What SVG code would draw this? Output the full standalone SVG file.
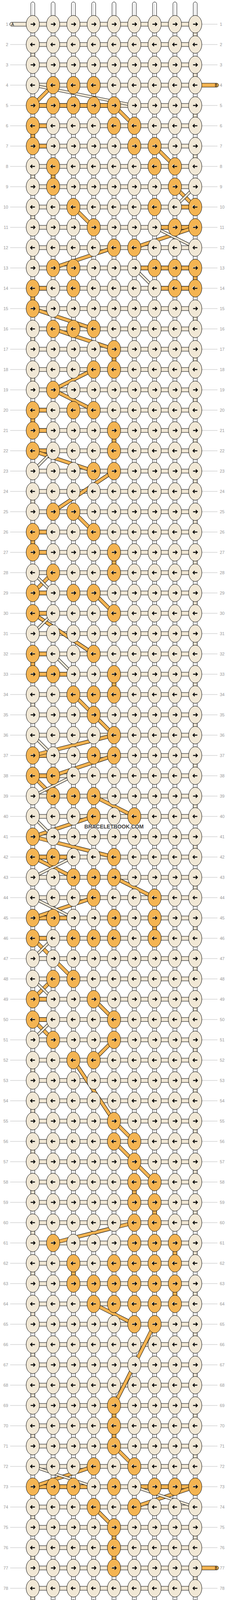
<svg xmlns="http://www.w3.org/2000/svg" width="584" height="4232" viewBox="0 0 584 4232">
<style>
.w{fill:#fff;stroke:#000;stroke-width:1}
.wl{fill:none;stroke:#bbb;stroke-width:1}
.hc{fill:#F1E8D6;stroke:#000;stroke-width:1}
.ho{fill:#F4B452;stroke:#000;stroke-width:1}
.kc{fill:#F1E8D6;stroke:#000;stroke-width:1}
.ko{fill:#F4B452;stroke:#000;stroke-width:1}
.bo{stroke:#000;stroke-width:9.5}
.fo{stroke:#F4B452;stroke-width:7.5}
.bc{stroke:#000;stroke-width:7}
.fc{stroke:#F1E8D6;stroke-width:5}
.gl{fill:none;stroke:#bbb;stroke-width:1}
.lb text{font-family:"Liberation Sans",Arial,sans-serif;font-size:11px;fill:#999}
.ll text{text-anchor:end}
.ar{fill:none;stroke:#000;stroke-width:2.3}
.ah{fill:none;stroke:#fff;stroke-width:2.3}
.st{font-family:"Liberation Sans",Arial,sans-serif;font-size:10px;fill:#000}
</style>
<defs>
<path id="pR" d="M-5.5,0H5.5M1.5,-4.2L5.6,0L1.5,4.2"/>
<path id="pL" d="M5.5,0H-5.5M-1.5,-4.2L-5.6,0L-1.5,4.2"/>
<g id="cR"><ellipse class="kc" rx="17" ry="22.5"/><use href="#pR" class="ar"/></g>
<g id="cL"><ellipse class="kc" rx="17" ry="22.5"/><use href="#pL" class="ar"/></g>
<g id="oR"><ellipse class="ko" rx="17" ry="22.5"/><use href="#pR" class="ah" x="-0.9" y="-0.9"/><use href="#pR" class="ar"/></g>
<g id="oL"><ellipse class="ko" rx="17" ry="22.5"/><use href="#pL" class="ah" x="-0.9" y="-0.9"/><use href="#pL" class="ar"/></g>
</defs>
<rect width="584" height="4232" fill="#fff"/>
<g id="guides">
<path class="gl" d="M26,62H67M26,114H67M26,166H67M26,218H67M26,270H67M26,322H67M26,374H67M26,426H67M26,478H67M26,530H67M26,582H67M26,634H67M26,686H67M26,738H67M26,790H67M26,842H67M26,894H67M26,946H67M26,998H67M26,1050H67M26,1102H67M26,1154H67M26,1206H67M26,1258H67M26,1310H67M26,1362H67M26,1414H67M26,1466H67M26,1518H67M26,1570H67M26,1622H67M26,1674H67M26,1726H67M26,1778H67M26,1830H67M26,1882H67M26,1934H67M26,1986H67M26,2038H67M26,2090H67M26,2142H67M26,2194H67M26,2246H67M26,2298H67M26,2350H67M26,2402H67M26,2454H67M26,2506H67M26,2558H67M26,2610H67M26,2662H67M26,2714H67M26,2766H67M26,2818H67M26,2870H67M26,2922H67M26,2974H67M26,3026H67M26,3078H67M26,3130H67M26,3182H67M26,3234H67M26,3286H67M26,3338H67M26,3390H67M26,3442H67M26,3494H67M26,3546H67M26,3598H67M26,3650H67M26,3702H67M26,3754H67M26,3806H67M26,3858H67M26,3910H67M26,3962H67M26,4014H67M26,4066H67M26,4118H67M26,4170H67"/>
<path class="gl" d="M517,62H557M517,114H557M517,166H557M517,218H557M517,270H557M517,322H557M517,374H557M517,426H557M517,478H557M517,530H557M517,582H557M517,634H557M517,686H557M517,738H557M517,790H557M517,842H557M517,894H557M517,946H557M517,998H557M517,1050H557M517,1102H557M517,1154H557M517,1206H557M517,1258H557M517,1310H557M517,1362H557M517,1414H557M517,1466H557M517,1518H557M517,1570H557M517,1622H557M517,1674H557M517,1726H557M517,1778H557M517,1830H557M517,1882H557M517,1934H557M517,1986H557M517,2038H557M517,2090H557M517,2142H557M517,2194H557M517,2246H557M517,2298H557M517,2350H557M517,2402H557M517,2454H557M517,2506H557M517,2558H557M517,2610H557M517,2662H557M517,2714H557M517,2766H557M517,2818H557M517,2870H557M517,2922H557M517,2974H557M517,3026H557M517,3078H557M517,3130H557M517,3182H557M517,3234H557M517,3286H557M517,3338H557M517,3390H557M517,3442H557M517,3494H557M517,3546H557M517,3598H557M517,3650H557M517,3702H557M517,3754H557M517,3806H557M517,3858H557M517,3910H557M517,3962H557M517,4014H557M517,4066H557M517,4118H557M517,4170H557"/>
</g>
<g id="connectors">
<g id="warps">
<rect class="w" x="79" y="5" width="10" height="4222" rx="5"/>
<rect class="w" x="131" y="5" width="10" height="4222" rx="5"/>
<rect class="w" x="183" y="5" width="10" height="4222" rx="5"/>
<rect class="w" x="235" y="5" width="10" height="4222" rx="5"/>
<rect class="w" x="287" y="5" width="10" height="4222" rx="5"/>
<rect class="w" x="339" y="5" width="10" height="4222" rx="5"/>
<rect class="w" x="391" y="5" width="10" height="4222" rx="5"/>
<rect class="w" x="443" y="5" width="10" height="4222" rx="5"/>
<rect class="w" x="495" y="5" width="10" height="4222" rx="5"/>
<path class="wl" d="M83.5,9V4223M135.5,9V4223M187.5,9V4223M239.5,9V4223M291.5,9V4223M343.5,9V4223M395.5,9V4223M447.5,9V4223M499.5,9V4223"/>
</g>
<path id="rows-cream" class="hc" d="M84,57h416v10h-416zM84,109h416v10h-416zM84,161h416v10h-416zM84,213h416v10h-416zM84,265h416v10h-416zM84,317h416v10h-416zM84,369h416v10h-416zM84,421h416v10h-416zM84,473h416v10h-416zM84,525h416v10h-416zM84,577h416v10h-416zM84,629h416v10h-416zM84,681h416v10h-416zM84,733h416v10h-416zM84,785h416v10h-416zM84,837h416v10h-416zM84,889h416v10h-416zM84,941h416v10h-416zM84,993h416v10h-416zM84,1045h416v10h-416zM84,1097h416v10h-416zM84,1149h416v10h-416zM84,1201h416v10h-416zM84,1253h416v10h-416zM84,1305h416v10h-416zM84,1357h416v10h-416zM84,1409h416v10h-416zM84,1461h416v10h-416zM84,1513h416v10h-416zM84,1565h416v10h-416zM84,1617h416v10h-416zM84,1669h416v10h-416zM84,1721h416v10h-416zM84,1773h416v10h-416zM84,1825h416v10h-416zM84,1877h416v10h-416zM84,1929h416v10h-416zM84,1981h416v10h-416zM84,2033h416v10h-416zM84,2085h416v10h-416zM84,2137h416v10h-416zM84,2189h416v10h-416zM84,2241h416v10h-416zM84,2293h416v10h-416zM84,2345h416v10h-416zM84,2397h416v10h-416zM84,2449h416v10h-416zM84,2501h416v10h-416zM84,2553h416v10h-416zM84,2605h416v10h-416zM84,2657h416v10h-416zM84,2709h416v10h-416zM84,2761h416v10h-416zM84,2813h416v10h-416zM84,2865h416v10h-416zM84,2917h416v10h-416zM84,2969h416v10h-416zM84,3021h416v10h-416zM84,3073h416v10h-416zM84,3125h416v10h-416zM84,3177h416v10h-416zM84,3229h416v10h-416zM84,3281h416v10h-416zM84,3333h416v10h-416zM84,3385h416v10h-416zM84,3437h416v10h-416zM84,3489h416v10h-416zM84,3541h416v10h-416zM84,3593h416v10h-416zM84,3645h416v10h-416zM84,3697h416v10h-416zM84,3749h416v10h-416zM84,3801h416v10h-416zM84,3853h416v10h-416zM84,3905h416v10h-416zM84,3957h416v10h-416zM84,4009h416v10h-416zM84,4061h416v10h-416zM84,4113h416v10h-416zM84,4165h416v10h-416z"/>
<path id="rows-orange" class="ho" d="M84,265h208v10h-208zM84,317h52v10h-52zM84,369h52v10h-52zM448,525h52v10h-52zM396,577h104v10h-104zM344,681h156v10h-156zM84,733h52v10h-52zM396,733h104v10h-104zM84,1045h52v10h-52zM84,1097h52v10h-52zM84,1149h52v10h-52zM84,1357h52v10h-52zM84,1409h52v10h-52zM84,1513h52v10h-52zM84,1565h52v10h-52zM84,1669h52v10h-52zM84,1721h104v10h-104zM84,1929h52v10h-52zM84,1981h52v10h-52zM84,2189h104v10h-104zM84,2345h104v10h-104zM84,2397h52v10h-52zM84,2553h52v10h-52zM84,2605h52v10h-52zM84,3801h156v10h-156zM344,3801h156v10h-156z"/>
<path id="turns-cream" class="hc" d="M495,80h10v16h-10zM495,184h10v16h-10zM495,288h10v16h-10zM495,392h10v16h-10zM495,808h10v16h-10zM495,912h10v16h-10zM495,1016h10v16h-10zM495,1120h10v16h-10zM495,1224h10v16h-10zM495,1328h10v16h-10zM495,1432h10v16h-10zM495,1536h10v16h-10zM495,1640h10v16h-10zM495,1744h10v16h-10zM495,1848h10v16h-10zM495,1952h10v16h-10zM495,2056h10v16h-10zM495,2160h10v16h-10zM495,2264h10v16h-10zM495,2368h10v16h-10zM495,2472h10v16h-10zM495,2576h10v16h-10zM495,2680h10v16h-10zM495,2784h10v16h-10zM495,2888h10v16h-10zM495,2992h10v16h-10zM495,3096h10v16h-10zM495,3200h10v16h-10zM495,3304h10v16h-10zM495,3408h10v16h-10zM495,3512h10v16h-10zM495,3616h10v16h-10zM495,3720h10v16h-10zM495,3928h10v16h-10zM495,4032h10v16h-10zM495,4136h10v16h-10zM79,132h10v16h-10zM79,444h10v16h-10zM79,548h10v16h-10zM79,652h10v16h-10zM79,860h10v16h-10zM79,964h10v16h-10zM79,1276h10v16h-10zM79,1796h10v16h-10zM79,2732h10v16h-10zM79,2836h10v16h-10zM79,2940h10v16h-10zM79,3044h10v16h-10zM79,3148h10v16h-10zM79,3252h10v16h-10zM79,3356h10v16h-10zM79,3460h10v16h-10zM79,3564h10v16h-10zM79,3668h10v16h-10zM79,3876h10v16h-10zM79,3980h10v16h-10zM79,4084h10v16h-10z"/>
<path id="turns-orange" class="ho" d="M79,340h10v16h-10zM495,704h10v16h-10zM79,756h10v16h-10zM79,1068h10v16h-10zM79,1380h10v16h-10zM79,1692h10v16h-10zM131,444h10v16h-10zM287,912h10v16h-10zM287,1120h10v16h-10zM287,1432h10v16h-10zM287,1744h10v16h-10zM391,2368h10v16h-10zM339,3044h10v16h-10zM391,3096h10v16h-10zM443,3200h10v16h-10zM183,3252h10v16h-10zM443,3304h10v16h-10zM287,3616h10v16h-10zM287,3668h10v16h-10zM287,3928h10v16h-10zM287,3980h10v16h-10z"/>
<g id="diagonals-orange">
<line class="bo" x1="84" y1="270" x2="136" y2="218"/><line class="fo" x1="84" y1="270" x2="136" y2="218"/>
<line class="bo" x1="292" y1="270" x2="344" y2="322"/><line class="fo" x1="292" y1="270" x2="344" y2="322"/>
<line class="bo" x1="396" y1="374" x2="448" y2="426"/><line class="fo" x1="396" y1="374" x2="448" y2="426"/>
<line class="bo" x1="448" y1="478" x2="500" y2="530"/><line class="fo" x1="448" y1="478" x2="500" y2="530"/>
<line class="bo" x1="188" y1="530" x2="240" y2="582"/><line class="fo" x1="188" y1="530" x2="240" y2="582"/>
<line class="bo" x1="500" y1="582" x2="344" y2="634"/><line class="fo" x1="500" y1="582" x2="344" y2="634"/>
<line class="bo" x1="292" y1="634" x2="136" y2="686"/><line class="fo" x1="292" y1="634" x2="136" y2="686"/>
<line class="bo" x1="84" y1="790" x2="240" y2="842"/><line class="fo" x1="84" y1="790" x2="240" y2="842"/>
<line class="bo" x1="136" y1="842" x2="292" y2="894"/><line class="fo" x1="136" y1="842" x2="292" y2="894"/>
<line class="bo" x1="240" y1="946" x2="136" y2="998"/><line class="fo" x1="240" y1="946" x2="136" y2="998"/>
<line class="bo" x1="136" y1="998" x2="240" y2="1050"/><line class="fo" x1="136" y1="998" x2="240" y2="1050"/>
<line class="bo" x1="84" y1="1154" x2="240" y2="1206"/><line class="fo" x1="84" y1="1154" x2="240" y2="1206"/>
<line class="bo" x1="292" y1="1206" x2="136" y2="1310"/><line class="fo" x1="292" y1="1206" x2="136" y2="1310"/>
<line class="bo" x1="188" y1="1310" x2="240" y2="1362"/><line class="fo" x1="188" y1="1310" x2="240" y2="1362"/>
<line class="bo" x1="84" y1="1518" x2="136" y2="1466"/><line class="fo" x1="84" y1="1518" x2="136" y2="1466"/>
<line class="bo" x1="240" y1="1518" x2="292" y2="1570"/><line class="fo" x1="240" y1="1518" x2="292" y2="1570"/>
<line class="bo" x1="84" y1="1570" x2="240" y2="1674"/><line class="fo" x1="84" y1="1570" x2="240" y2="1674"/>
<line class="bo" x1="188" y1="1778" x2="240" y2="1830"/><line class="fo" x1="188" y1="1778" x2="240" y2="1830"/>
<line class="bo" x1="240" y1="1830" x2="292" y2="1882"/><line class="fo" x1="240" y1="1830" x2="292" y2="1882"/>
<line class="bo" x1="292" y1="1882" x2="84" y2="1934"/><line class="fo" x1="292" y1="1882" x2="84" y2="1934"/>
<line class="bo" x1="292" y1="1934" x2="136" y2="1986"/><line class="fo" x1="292" y1="1934" x2="136" y2="1986"/>
<line class="bo" x1="84" y1="1986" x2="136" y2="2038"/><line class="fo" x1="84" y1="1986" x2="136" y2="2038"/>
<line class="bo" x1="240" y1="2038" x2="344" y2="2090"/><line class="fo" x1="240" y1="2038" x2="344" y2="2090"/>
<line class="bo" x1="240" y1="2090" x2="84" y2="2142"/><line class="fo" x1="240" y1="2090" x2="84" y2="2142"/>
<line class="bo" x1="84" y1="2142" x2="292" y2="2194"/><line class="fo" x1="84" y1="2142" x2="292" y2="2194"/>
<line class="bo" x1="84" y1="2194" x2="188" y2="2246"/><line class="fo" x1="84" y1="2194" x2="188" y2="2246"/>
<line class="bo" x1="292" y1="2246" x2="396" y2="2298"/><line class="fo" x1="292" y1="2246" x2="396" y2="2298"/>
<line class="bo" x1="240" y1="2298" x2="84" y2="2350"/><line class="fo" x1="240" y1="2298" x2="84" y2="2350"/>
<line class="bo" x1="84" y1="2402" x2="136" y2="2454"/><line class="fo" x1="84" y1="2402" x2="136" y2="2454"/>
<line class="bo" x1="136" y1="2454" x2="188" y2="2506"/><line class="fo" x1="136" y1="2454" x2="188" y2="2506"/>
<line class="bo" x1="84" y1="2558" x2="136" y2="2506"/><line class="fo" x1="84" y1="2558" x2="136" y2="2506"/>
<line class="bo" x1="240" y1="2558" x2="292" y2="2610"/><line class="fo" x1="240" y1="2558" x2="292" y2="2610"/>
<line class="bo" x1="84" y1="2610" x2="136" y2="2662"/><line class="fo" x1="84" y1="2610" x2="136" y2="2662"/>
<line class="bo" x1="292" y1="2662" x2="240" y2="2714"/><line class="fo" x1="292" y1="2662" x2="240" y2="2714"/>
<line class="bo" x1="188" y1="2714" x2="292" y2="2870"/><line class="fo" x1="188" y1="2714" x2="292" y2="2870"/>
<line class="bo" x1="292" y1="2870" x2="344" y2="2922"/><line class="fo" x1="292" y1="2870" x2="344" y2="2922"/>
<line class="bo" x1="292" y1="2922" x2="344" y2="2974"/><line class="fo" x1="292" y1="2922" x2="344" y2="2974"/>
<line class="bo" x1="344" y1="2974" x2="396" y2="3026"/><line class="fo" x1="344" y1="2974" x2="396" y2="3026"/>
<line class="bo" x1="344" y1="3130" x2="136" y2="3182"/><line class="fo" x1="344" y1="3130" x2="136" y2="3182"/>
<line class="bo" x1="240" y1="3338" x2="344" y2="3390"/><line class="fo" x1="240" y1="3338" x2="344" y2="3390"/>
<line class="bo" x1="396" y1="3390" x2="292" y2="3598"/><line class="fo" x1="396" y1="3390" x2="292" y2="3598"/>
<line class="bo" x1="292" y1="3702" x2="344" y2="3754"/><line class="fo" x1="292" y1="3702" x2="344" y2="3754"/>
<line class="bo" x1="240" y1="3754" x2="84" y2="3806"/><line class="fo" x1="240" y1="3754" x2="84" y2="3806"/>
<line class="bo" x1="500" y1="3806" x2="344" y2="3858"/><line class="fo" x1="500" y1="3806" x2="344" y2="3858"/>
<line class="bo" x1="240" y1="3858" x2="292" y2="3910"/><line class="fo" x1="240" y1="3858" x2="292" y2="3910"/>
</g>
<g id="diagonals-cream">
<line class="bc" x1="84" y1="218" x2="344" y2="270"/><line class="fc" x1="84" y1="218" x2="344" y2="270"/>
<line class="bc" x1="500" y1="478" x2="448" y2="530"/><line class="fc" x1="500" y1="478" x2="448" y2="530"/>
<line class="bc" x1="396" y1="582" x2="500" y2="634"/><line class="fc" x1="396" y1="582" x2="500" y2="634"/>
<line class="bc" x1="344" y1="686" x2="396" y2="738"/><line class="fc" x1="344" y1="686" x2="396" y2="738"/>
<line class="bc" x1="84" y1="1206" x2="136" y2="1154"/><line class="fc" x1="84" y1="1206" x2="136" y2="1154"/>
<line class="bc" x1="84" y1="1466" x2="136" y2="1518"/><line class="fc" x1="84" y1="1466" x2="136" y2="1518"/>
<line class="bc" x1="84" y1="1622" x2="136" y2="1570"/><line class="fc" x1="84" y1="1622" x2="136" y2="1570"/>
<line class="bc" x1="136" y1="1674" x2="188" y2="1726"/><line class="fc" x1="136" y1="1674" x2="188" y2="1726"/>
<line class="bc" x1="84" y1="1882" x2="136" y2="1934"/><line class="fc" x1="84" y1="1882" x2="136" y2="1934"/>
<line class="bc" x1="188" y1="1986" x2="84" y2="2038"/><line class="fc" x1="188" y1="1986" x2="84" y2="2038"/>
<line class="bc" x1="84" y1="2090" x2="136" y2="2142"/><line class="fc" x1="84" y1="2090" x2="136" y2="2142"/>
<line class="bc" x1="188" y1="2194" x2="84" y2="2246"/><line class="fc" x1="188" y1="2194" x2="84" y2="2246"/>
<line class="bc" x1="84" y1="2298" x2="188" y2="2350"/><line class="fc" x1="84" y1="2298" x2="188" y2="2350"/>
<line class="bc" x1="84" y1="2454" x2="136" y2="2402"/><line class="fc" x1="84" y1="2454" x2="136" y2="2402"/>
<line class="bc" x1="84" y1="2506" x2="136" y2="2558"/><line class="fc" x1="84" y1="2506" x2="136" y2="2558"/>
<line class="bc" x1="84" y1="2662" x2="136" y2="2610"/><line class="fc" x1="84" y1="2662" x2="136" y2="2610"/>
<line class="bc" x1="84" y1="3754" x2="240" y2="3806"/><line class="fc" x1="84" y1="3754" x2="240" y2="3806"/>
<line class="bc" x1="344" y1="3806" x2="500" y2="3858"/><line class="fc" x1="344" y1="3806" x2="500" y2="3858"/>
</g>
<g id="ends">
<rect class="hc" x="25" y="57" width="62" height="10" rx="5"/>
<rect class="hc" x="25" y="4165" width="62" height="10" rx="5"/>
<rect class="ho" x="497" y="213" width="63" height="10" rx="5"/>
<rect class="ho" x="497" y="4009" width="63" height="10" rx="5"/>
<text class="st" x="29" y="66">A</text>
<text class="st" x="29" y="4174">A</text>
<text class="st" x="557" y="222" text-anchor="end">B</text>
<text class="st" x="557" y="4018" text-anchor="end">B</text>
</g>
</g>
<g id="knots">
<g id="r1" transform="translate(0,62)"><g id="k1-1"><use href="#cR" x="84"/></g><g id="k1-2"><use href="#cR" x="136"/></g><g id="k1-3"><use href="#cR" x="188"/></g><g id="k1-4"><use href="#cR" x="240"/></g><g id="k1-5"><use href="#cR" x="292"/></g><g id="k1-6"><use href="#cR" x="344"/></g><g id="k1-7"><use href="#cR" x="396"/></g><g id="k1-8"><use href="#cR" x="448"/></g><g id="k1-9"><use href="#cR" x="500"/></g></g>
<g id="r2" transform="translate(0,114)"><g id="k2-1"><use href="#cL" x="84"/></g><g id="k2-2"><use href="#cL" x="136"/></g><g id="k2-3"><use href="#cL" x="188"/></g><g id="k2-4"><use href="#cL" x="240"/></g><g id="k2-5"><use href="#cL" x="292"/></g><g id="k2-6"><use href="#cL" x="344"/></g><g id="k2-7"><use href="#cL" x="396"/></g><g id="k2-8"><use href="#cL" x="448"/></g><g id="k2-9"><use href="#cL" x="500"/></g></g>
<g id="r3" transform="translate(0,166)"><g id="k3-1"><use href="#cR" x="84"/></g><g id="k3-2"><use href="#cR" x="136"/></g><g id="k3-3"><use href="#cR" x="188"/></g><g id="k3-4"><use href="#cR" x="240"/></g><g id="k3-5"><use href="#cR" x="292"/></g><g id="k3-6"><use href="#cR" x="344"/></g><g id="k3-7"><use href="#cR" x="396"/></g><g id="k3-8"><use href="#cR" x="448"/></g><g id="k3-9"><use href="#cR" x="500"/></g></g>
<g id="r4" transform="translate(0,218)"><g id="k4-1"><use href="#cL" x="84"/></g><g id="k4-2"><use href="#oL" x="136"/></g><g id="k4-3"><use href="#oL" x="188"/></g><g id="k4-4"><use href="#oL" x="240"/></g><g id="k4-5"><use href="#cL" x="292"/></g><g id="k4-6"><use href="#cL" x="344"/></g><g id="k4-7"><use href="#cL" x="396"/></g><g id="k4-8"><use href="#cL" x="448"/></g><g id="k4-9"><use href="#cL" x="500"/></g></g>
<g id="r5" transform="translate(0,270)"><g id="k5-1"><use href="#oR" x="84"/></g><g id="k5-2"><use href="#oR" x="136"/></g><g id="k5-3"><use href="#oR" x="188"/></g><g id="k5-4"><use href="#oR" x="240"/></g><g id="k5-5"><use href="#oR" x="292"/></g><g id="k5-6"><use href="#cR" x="344"/></g><g id="k5-7"><use href="#cR" x="396"/></g><g id="k5-8"><use href="#cR" x="448"/></g><g id="k5-9"><use href="#cR" x="500"/></g></g>
<g id="r6" transform="translate(0,322)"><g id="k6-1"><use href="#oL" x="84"/></g><g id="k6-2"><use href="#cL" x="136"/></g><g id="k6-3"><use href="#cL" x="188"/></g><g id="k6-4"><use href="#cL" x="240"/></g><g id="k6-5"><use href="#oL" x="292"/></g><g id="k6-6"><use href="#oL" x="344"/></g><g id="k6-7"><use href="#cL" x="396"/></g><g id="k6-8"><use href="#cL" x="448"/></g><g id="k6-9"><use href="#cL" x="500"/></g></g>
<g id="r7" transform="translate(0,374)"><g id="k7-1"><use href="#oR" x="84"/></g><g id="k7-2"><use href="#cR" x="136"/></g><g id="k7-3"><use href="#cR" x="188"/></g><g id="k7-4"><use href="#cR" x="240"/></g><g id="k7-5"><use href="#cR" x="292"/></g><g id="k7-6"><use href="#oR" x="344"/></g><g id="k7-7"><use href="#oR" x="396"/></g><g id="k7-8"><use href="#cR" x="448"/></g><g id="k7-9"><use href="#cR" x="500"/></g></g>
<g id="r8" transform="translate(0,426)"><g id="k8-1"><use href="#cL" x="84"/></g><g id="k8-2"><use href="#oL" x="136"/></g><g id="k8-3"><use href="#cL" x="188"/></g><g id="k8-4"><use href="#cL" x="240"/></g><g id="k8-5"><use href="#cL" x="292"/></g><g id="k8-6"><use href="#cL" x="344"/></g><g id="k8-7"><use href="#oL" x="396"/></g><g id="k8-8"><use href="#oL" x="448"/></g><g id="k8-9"><use href="#cL" x="500"/></g></g>
<g id="r9" transform="translate(0,478)"><g id="k9-1"><use href="#cR" x="84"/></g><g id="k9-2"><use href="#oR" x="136"/></g><g id="k9-3"><use href="#cR" x="188"/></g><g id="k9-4"><use href="#cR" x="240"/></g><g id="k9-5"><use href="#cR" x="292"/></g><g id="k9-6"><use href="#cR" x="344"/></g><g id="k9-7"><use href="#cR" x="396"/></g><g id="k9-8"><use href="#oR" x="448"/></g><g id="k9-9"><use href="#cR" x="500"/></g></g>
<g id="r10" transform="translate(0,530)"><g id="k10-1"><use href="#cL" x="84"/></g><g id="k10-2"><use href="#cL" x="136"/></g><g id="k10-3"><use href="#oL" x="188"/></g><g id="k10-4"><use href="#cL" x="240"/></g><g id="k10-5"><use href="#cL" x="292"/></g><g id="k10-6"><use href="#cL" x="344"/></g><g id="k10-7"><use href="#oL" x="396"/></g><g id="k10-8"><use href="#cL" x="448"/></g><g id="k10-9"><use href="#oL" x="500"/></g></g>
<g id="r11" transform="translate(0,582)"><g id="k11-1"><use href="#cR" x="84"/></g><g id="k11-2"><use href="#cR" x="136"/></g><g id="k11-3"><use href="#cR" x="188"/></g><g id="k11-4"><use href="#oR" x="240"/></g><g id="k11-5"><use href="#cR" x="292"/></g><g id="k11-6"><use href="#cR" x="344"/></g><g id="k11-7"><use href="#cR" x="396"/></g><g id="k11-8"><use href="#oR" x="448"/></g><g id="k11-9"><use href="#oR" x="500"/></g></g>
<g id="r12" transform="translate(0,634)"><g id="k12-1"><use href="#cL" x="84"/></g><g id="k12-2"><use href="#cL" x="136"/></g><g id="k12-3"><use href="#cL" x="188"/></g><g id="k12-4"><use href="#cL" x="240"/></g><g id="k12-5"><use href="#oL" x="292"/></g><g id="k12-6"><use href="#oL" x="344"/></g><g id="k12-7"><use href="#cL" x="396"/></g><g id="k12-8"><use href="#cL" x="448"/></g><g id="k12-9"><use href="#cL" x="500"/></g></g>
<g id="r13" transform="translate(0,686)"><g id="k13-1"><use href="#cR" x="84"/></g><g id="k13-2"><use href="#oR" x="136"/></g><g id="k13-3"><use href="#oR" x="188"/></g><g id="k13-4"><use href="#cR" x="240"/></g><g id="k13-5"><use href="#cR" x="292"/></g><g id="k13-6"><use href="#cR" x="344"/></g><g id="k13-7"><use href="#oR" x="396"/></g><g id="k13-8"><use href="#oR" x="448"/></g><g id="k13-9"><use href="#oR" x="500"/></g></g>
<g id="r14" transform="translate(0,738)"><g id="k14-1"><use href="#oL" x="84"/></g><g id="k14-2"><use href="#cL" x="136"/></g><g id="k14-3"><use href="#oL" x="188"/></g><g id="k14-4"><use href="#cL" x="240"/></g><g id="k14-5"><use href="#cL" x="292"/></g><g id="k14-6"><use href="#cL" x="344"/></g><g id="k14-7"><use href="#cL" x="396"/></g><g id="k14-8"><use href="#oL" x="448"/></g><g id="k14-9"><use href="#oL" x="500"/></g></g>
<g id="r15" transform="translate(0,790)"><g id="k15-1"><use href="#oR" x="84"/></g><g id="k15-2"><use href="#cR" x="136"/></g><g id="k15-3"><use href="#cR" x="188"/></g><g id="k15-4"><use href="#cR" x="240"/></g><g id="k15-5"><use href="#cR" x="292"/></g><g id="k15-6"><use href="#cR" x="344"/></g><g id="k15-7"><use href="#cR" x="396"/></g><g id="k15-8"><use href="#cR" x="448"/></g><g id="k15-9"><use href="#cR" x="500"/></g></g>
<g id="r16" transform="translate(0,842)"><g id="k16-1"><use href="#cL" x="84"/></g><g id="k16-2"><use href="#oL" x="136"/></g><g id="k16-3"><use href="#oL" x="188"/></g><g id="k16-4"><use href="#oL" x="240"/></g><g id="k16-5"><use href="#cL" x="292"/></g><g id="k16-6"><use href="#cL" x="344"/></g><g id="k16-7"><use href="#cL" x="396"/></g><g id="k16-8"><use href="#cL" x="448"/></g><g id="k16-9"><use href="#cL" x="500"/></g></g>
<g id="r17" transform="translate(0,894)"><g id="k17-1"><use href="#cR" x="84"/></g><g id="k17-2"><use href="#cR" x="136"/></g><g id="k17-3"><use href="#cR" x="188"/></g><g id="k17-4"><use href="#cR" x="240"/></g><g id="k17-5"><use href="#oR" x="292"/></g><g id="k17-6"><use href="#cR" x="344"/></g><g id="k17-7"><use href="#cR" x="396"/></g><g id="k17-8"><use href="#cR" x="448"/></g><g id="k17-9"><use href="#cR" x="500"/></g></g>
<g id="r18" transform="translate(0,946)"><g id="k18-1"><use href="#cL" x="84"/></g><g id="k18-2"><use href="#cL" x="136"/></g><g id="k18-3"><use href="#cL" x="188"/></g><g id="k18-4"><use href="#oL" x="240"/></g><g id="k18-5"><use href="#oL" x="292"/></g><g id="k18-6"><use href="#cL" x="344"/></g><g id="k18-7"><use href="#cL" x="396"/></g><g id="k18-8"><use href="#cL" x="448"/></g><g id="k18-9"><use href="#cL" x="500"/></g></g>
<g id="r19" transform="translate(0,998)"><g id="k19-1"><use href="#cR" x="84"/></g><g id="k19-2"><use href="#oR" x="136"/></g><g id="k19-3"><use href="#cR" x="188"/></g><g id="k19-4"><use href="#cR" x="240"/></g><g id="k19-5"><use href="#cR" x="292"/></g><g id="k19-6"><use href="#cR" x="344"/></g><g id="k19-7"><use href="#cR" x="396"/></g><g id="k19-8"><use href="#cR" x="448"/></g><g id="k19-9"><use href="#cR" x="500"/></g></g>
<g id="r20" transform="translate(0,1050)"><g id="k20-1"><use href="#oL" x="84"/></g><g id="k20-2"><use href="#cL" x="136"/></g><g id="k20-3"><use href="#oL" x="188"/></g><g id="k20-4"><use href="#oL" x="240"/></g><g id="k20-5"><use href="#cL" x="292"/></g><g id="k20-6"><use href="#cL" x="344"/></g><g id="k20-7"><use href="#cL" x="396"/></g><g id="k20-8"><use href="#cL" x="448"/></g><g id="k20-9"><use href="#cL" x="500"/></g></g>
<g id="r21" transform="translate(0,1102)"><g id="k21-1"><use href="#oR" x="84"/></g><g id="k21-2"><use href="#cR" x="136"/></g><g id="k21-3"><use href="#cR" x="188"/></g><g id="k21-4"><use href="#cR" x="240"/></g><g id="k21-5"><use href="#oR" x="292"/></g><g id="k21-6"><use href="#cR" x="344"/></g><g id="k21-7"><use href="#cR" x="396"/></g><g id="k21-8"><use href="#cR" x="448"/></g><g id="k21-9"><use href="#cR" x="500"/></g></g>
<g id="r22" transform="translate(0,1154)"><g id="k22-1"><use href="#oL" x="84"/></g><g id="k22-2"><use href="#cL" x="136"/></g><g id="k22-3"><use href="#cL" x="188"/></g><g id="k22-4"><use href="#cL" x="240"/></g><g id="k22-5"><use href="#oL" x="292"/></g><g id="k22-6"><use href="#cL" x="344"/></g><g id="k22-7"><use href="#cL" x="396"/></g><g id="k22-8"><use href="#cL" x="448"/></g><g id="k22-9"><use href="#cL" x="500"/></g></g>
<g id="r23" transform="translate(0,1206)"><g id="k23-1"><use href="#cR" x="84"/></g><g id="k23-2"><use href="#cR" x="136"/></g><g id="k23-3"><use href="#cR" x="188"/></g><g id="k23-4"><use href="#oR" x="240"/></g><g id="k23-5"><use href="#oR" x="292"/></g><g id="k23-6"><use href="#cR" x="344"/></g><g id="k23-7"><use href="#cR" x="396"/></g><g id="k23-8"><use href="#cR" x="448"/></g><g id="k23-9"><use href="#cR" x="500"/></g></g>
<g id="r24" transform="translate(0,1258)"><g id="k24-1"><use href="#cL" x="84"/></g><g id="k24-2"><use href="#cL" x="136"/></g><g id="k24-3"><use href="#cL" x="188"/></g><g id="k24-4"><use href="#cL" x="240"/></g><g id="k24-5"><use href="#cL" x="292"/></g><g id="k24-6"><use href="#cL" x="344"/></g><g id="k24-7"><use href="#cL" x="396"/></g><g id="k24-8"><use href="#cL" x="448"/></g><g id="k24-9"><use href="#cL" x="500"/></g></g>
<g id="r25" transform="translate(0,1310)"><g id="k25-1"><use href="#cR" x="84"/></g><g id="k25-2"><use href="#oR" x="136"/></g><g id="k25-3"><use href="#oR" x="188"/></g><g id="k25-4"><use href="#cR" x="240"/></g><g id="k25-5"><use href="#cR" x="292"/></g><g id="k25-6"><use href="#cR" x="344"/></g><g id="k25-7"><use href="#cR" x="396"/></g><g id="k25-8"><use href="#cR" x="448"/></g><g id="k25-9"><use href="#cR" x="500"/></g></g>
<g id="r26" transform="translate(0,1362)"><g id="k26-1"><use href="#oL" x="84"/></g><g id="k26-2"><use href="#cL" x="136"/></g><g id="k26-3"><use href="#cL" x="188"/></g><g id="k26-4"><use href="#oL" x="240"/></g><g id="k26-5"><use href="#cL" x="292"/></g><g id="k26-6"><use href="#cL" x="344"/></g><g id="k26-7"><use href="#cL" x="396"/></g><g id="k26-8"><use href="#cL" x="448"/></g><g id="k26-9"><use href="#cL" x="500"/></g></g>
<g id="r27" transform="translate(0,1414)"><g id="k27-1"><use href="#oR" x="84"/></g><g id="k27-2"><use href="#cR" x="136"/></g><g id="k27-3"><use href="#cR" x="188"/></g><g id="k27-4"><use href="#cR" x="240"/></g><g id="k27-5"><use href="#oR" x="292"/></g><g id="k27-6"><use href="#cR" x="344"/></g><g id="k27-7"><use href="#cR" x="396"/></g><g id="k27-8"><use href="#cR" x="448"/></g><g id="k27-9"><use href="#cR" x="500"/></g></g>
<g id="r28" transform="translate(0,1466)"><g id="k28-1"><use href="#cL" x="84"/></g><g id="k28-2"><use href="#oL" x="136"/></g><g id="k28-3"><use href="#cL" x="188"/></g><g id="k28-4"><use href="#cL" x="240"/></g><g id="k28-5"><use href="#oL" x="292"/></g><g id="k28-6"><use href="#cL" x="344"/></g><g id="k28-7"><use href="#cL" x="396"/></g><g id="k28-8"><use href="#cL" x="448"/></g><g id="k28-9"><use href="#cL" x="500"/></g></g>
<g id="r29" transform="translate(0,1518)"><g id="k29-1"><use href="#oR" x="84"/></g><g id="k29-2"><use href="#cR" x="136"/></g><g id="k29-3"><use href="#oR" x="188"/></g><g id="k29-4"><use href="#oR" x="240"/></g><g id="k29-5"><use href="#cR" x="292"/></g><g id="k29-6"><use href="#cR" x="344"/></g><g id="k29-7"><use href="#cR" x="396"/></g><g id="k29-8"><use href="#cR" x="448"/></g><g id="k29-9"><use href="#cR" x="500"/></g></g>
<g id="r30" transform="translate(0,1570)"><g id="k30-1"><use href="#oL" x="84"/></g><g id="k30-2"><use href="#cL" x="136"/></g><g id="k30-3"><use href="#cL" x="188"/></g><g id="k30-4"><use href="#cL" x="240"/></g><g id="k30-5"><use href="#oL" x="292"/></g><g id="k30-6"><use href="#cL" x="344"/></g><g id="k30-7"><use href="#cL" x="396"/></g><g id="k30-8"><use href="#cL" x="448"/></g><g id="k30-9"><use href="#cL" x="500"/></g></g>
<g id="r31" transform="translate(0,1622)"><g id="k31-1"><use href="#cR" x="84"/></g><g id="k31-2"><use href="#cR" x="136"/></g><g id="k31-3"><use href="#cR" x="188"/></g><g id="k31-4"><use href="#cR" x="240"/></g><g id="k31-5"><use href="#cR" x="292"/></g><g id="k31-6"><use href="#cR" x="344"/></g><g id="k31-7"><use href="#cR" x="396"/></g><g id="k31-8"><use href="#cR" x="448"/></g><g id="k31-9"><use href="#cR" x="500"/></g></g>
<g id="r32" transform="translate(0,1674)"><g id="k32-1"><use href="#oL" x="84"/></g><g id="k32-2"><use href="#cL" x="136"/></g><g id="k32-3"><use href="#cL" x="188"/></g><g id="k32-4"><use href="#oL" x="240"/></g><g id="k32-5"><use href="#cL" x="292"/></g><g id="k32-6"><use href="#cL" x="344"/></g><g id="k32-7"><use href="#cL" x="396"/></g><g id="k32-8"><use href="#cL" x="448"/></g><g id="k32-9"><use href="#cL" x="500"/></g></g>
<g id="r33" transform="translate(0,1726)"><g id="k33-1"><use href="#oR" x="84"/></g><g id="k33-2"><use href="#oR" x="136"/></g><g id="k33-3"><use href="#cR" x="188"/></g><g id="k33-4"><use href="#cR" x="240"/></g><g id="k33-5"><use href="#oR" x="292"/></g><g id="k33-6"><use href="#cR" x="344"/></g><g id="k33-7"><use href="#cR" x="396"/></g><g id="k33-8"><use href="#cR" x="448"/></g><g id="k33-9"><use href="#cR" x="500"/></g></g>
<g id="r34" transform="translate(0,1778)"><g id="k34-1"><use href="#cL" x="84"/></g><g id="k34-2"><use href="#cL" x="136"/></g><g id="k34-3"><use href="#oL" x="188"/></g><g id="k34-4"><use href="#oL" x="240"/></g><g id="k34-5"><use href="#oL" x="292"/></g><g id="k34-6"><use href="#cL" x="344"/></g><g id="k34-7"><use href="#cL" x="396"/></g><g id="k34-8"><use href="#cL" x="448"/></g><g id="k34-9"><use href="#cL" x="500"/></g></g>
<g id="r35" transform="translate(0,1830)"><g id="k35-1"><use href="#cR" x="84"/></g><g id="k35-2"><use href="#cR" x="136"/></g><g id="k35-3"><use href="#cR" x="188"/></g><g id="k35-4"><use href="#oR" x="240"/></g><g id="k35-5"><use href="#cR" x="292"/></g><g id="k35-6"><use href="#cR" x="344"/></g><g id="k35-7"><use href="#cR" x="396"/></g><g id="k35-8"><use href="#cR" x="448"/></g><g id="k35-9"><use href="#cR" x="500"/></g></g>
<g id="r36" transform="translate(0,1882)"><g id="k36-1"><use href="#cL" x="84"/></g><g id="k36-2"><use href="#cL" x="136"/></g><g id="k36-3"><use href="#cL" x="188"/></g><g id="k36-4"><use href="#cL" x="240"/></g><g id="k36-5"><use href="#oL" x="292"/></g><g id="k36-6"><use href="#cL" x="344"/></g><g id="k36-7"><use href="#cL" x="396"/></g><g id="k36-8"><use href="#cL" x="448"/></g><g id="k36-9"><use href="#cL" x="500"/></g></g>
<g id="r37" transform="translate(0,1934)"><g id="k37-1"><use href="#oR" x="84"/></g><g id="k37-2"><use href="#cR" x="136"/></g><g id="k37-3"><use href="#cR" x="188"/></g><g id="k37-4"><use href="#oR" x="240"/></g><g id="k37-5"><use href="#oR" x="292"/></g><g id="k37-6"><use href="#cR" x="344"/></g><g id="k37-7"><use href="#cR" x="396"/></g><g id="k37-8"><use href="#cR" x="448"/></g><g id="k37-9"><use href="#cR" x="500"/></g></g>
<g id="r38" transform="translate(0,1986)"><g id="k38-1"><use href="#oL" x="84"/></g><g id="k38-2"><use href="#oL" x="136"/></g><g id="k38-3"><use href="#cL" x="188"/></g><g id="k38-4"><use href="#cL" x="240"/></g><g id="k38-5"><use href="#cL" x="292"/></g><g id="k38-6"><use href="#cL" x="344"/></g><g id="k38-7"><use href="#cL" x="396"/></g><g id="k38-8"><use href="#cL" x="448"/></g><g id="k38-9"><use href="#cL" x="500"/></g></g>
<g id="r39" transform="translate(0,2038)"><g id="k39-1"><use href="#cR" x="84"/></g><g id="k39-2"><use href="#oR" x="136"/></g><g id="k39-3"><use href="#oR" x="188"/></g><g id="k39-4"><use href="#oR" x="240"/></g><g id="k39-5"><use href="#cR" x="292"/></g><g id="k39-6"><use href="#cR" x="344"/></g><g id="k39-7"><use href="#cR" x="396"/></g><g id="k39-8"><use href="#cR" x="448"/></g><g id="k39-9"><use href="#cR" x="500"/></g></g>
<g id="r40" transform="translate(0,2090)"><g id="k40-1"><use href="#cL" x="84"/></g><g id="k40-2"><use href="#cL" x="136"/></g><g id="k40-3"><use href="#cL" x="188"/></g><g id="k40-4"><use href="#oL" x="240"/></g><g id="k40-5"><use href="#cL" x="292"/></g><g id="k40-6"><use href="#oL" x="344"/></g><g id="k40-7"><use href="#cL" x="396"/></g><g id="k40-8"><use href="#cL" x="448"/></g><g id="k40-9"><use href="#cL" x="500"/></g></g>
<g id="r41" transform="translate(0,2142)"><g id="k41-1"><use href="#oR" x="84"/></g><g id="k41-2"><use href="#cR" x="136"/></g><g id="k41-3"><use href="#cR" x="188"/></g><g id="k41-4"><use href="#cR" x="240"/></g><g id="k41-5"><use href="#cR" x="292"/></g><g id="k41-6"><use href="#cR" x="344"/></g><g id="k41-7"><use href="#cR" x="396"/></g><g id="k41-8"><use href="#cR" x="448"/></g><g id="k41-9"><use href="#cR" x="500"/></g></g>
<g id="r42" transform="translate(0,2194)"><g id="k42-1"><use href="#oL" x="84"/></g><g id="k42-2"><use href="#oL" x="136"/></g><g id="k42-3"><use href="#cL" x="188"/></g><g id="k42-4"><use href="#cL" x="240"/></g><g id="k42-5"><use href="#oL" x="292"/></g><g id="k42-6"><use href="#cL" x="344"/></g><g id="k42-7"><use href="#cL" x="396"/></g><g id="k42-8"><use href="#cL" x="448"/></g><g id="k42-9"><use href="#cL" x="500"/></g></g>
<g id="r43" transform="translate(0,2246)"><g id="k43-1"><use href="#cR" x="84"/></g><g id="k43-2"><use href="#cR" x="136"/></g><g id="k43-3"><use href="#oR" x="188"/></g><g id="k43-4"><use href="#oR" x="240"/></g><g id="k43-5"><use href="#oR" x="292"/></g><g id="k43-6"><use href="#cR" x="344"/></g><g id="k43-7"><use href="#cR" x="396"/></g><g id="k43-8"><use href="#cR" x="448"/></g><g id="k43-9"><use href="#cR" x="500"/></g></g>
<g id="r44" transform="translate(0,2298)"><g id="k44-1"><use href="#cL" x="84"/></g><g id="k44-2"><use href="#cL" x="136"/></g><g id="k44-3"><use href="#cL" x="188"/></g><g id="k44-4"><use href="#oL" x="240"/></g><g id="k44-5"><use href="#cL" x="292"/></g><g id="k44-6"><use href="#cL" x="344"/></g><g id="k44-7"><use href="#oL" x="396"/></g><g id="k44-8"><use href="#cL" x="448"/></g><g id="k44-9"><use href="#cL" x="500"/></g></g>
<g id="r45" transform="translate(0,2350)"><g id="k45-1"><use href="#oR" x="84"/></g><g id="k45-2"><use href="#oR" x="136"/></g><g id="k45-3"><use href="#cR" x="188"/></g><g id="k45-4"><use href="#cR" x="240"/></g><g id="k45-5"><use href="#oR" x="292"/></g><g id="k45-6"><use href="#cR" x="344"/></g><g id="k45-7"><use href="#oR" x="396"/></g><g id="k45-8"><use href="#cR" x="448"/></g><g id="k45-9"><use href="#cR" x="500"/></g></g>
<g id="r46" transform="translate(0,2402)"><g id="k46-1"><use href="#oL" x="84"/></g><g id="k46-2"><use href="#cL" x="136"/></g><g id="k46-3"><use href="#oL" x="188"/></g><g id="k46-4"><use href="#oL" x="240"/></g><g id="k46-5"><use href="#oL" x="292"/></g><g id="k46-6"><use href="#cL" x="344"/></g><g id="k46-7"><use href="#oL" x="396"/></g><g id="k46-8"><use href="#cL" x="448"/></g><g id="k46-9"><use href="#cL" x="500"/></g></g>
<g id="r47" transform="translate(0,2454)"><g id="k47-1"><use href="#cR" x="84"/></g><g id="k47-2"><use href="#cR" x="136"/></g><g id="k47-3"><use href="#cR" x="188"/></g><g id="k47-4"><use href="#cR" x="240"/></g><g id="k47-5"><use href="#cR" x="292"/></g><g id="k47-6"><use href="#cR" x="344"/></g><g id="k47-7"><use href="#cR" x="396"/></g><g id="k47-8"><use href="#cR" x="448"/></g><g id="k47-9"><use href="#cR" x="500"/></g></g>
<g id="r48" transform="translate(0,2506)"><g id="k48-1"><use href="#cL" x="84"/></g><g id="k48-2"><use href="#oL" x="136"/></g><g id="k48-3"><use href="#oL" x="188"/></g><g id="k48-4"><use href="#cL" x="240"/></g><g id="k48-5"><use href="#cL" x="292"/></g><g id="k48-6"><use href="#cL" x="344"/></g><g id="k48-7"><use href="#cL" x="396"/></g><g id="k48-8"><use href="#cL" x="448"/></g><g id="k48-9"><use href="#cL" x="500"/></g></g>
<g id="r49" transform="translate(0,2558)"><g id="k49-1"><use href="#oR" x="84"/></g><g id="k49-2"><use href="#cR" x="136"/></g><g id="k49-3"><use href="#cR" x="188"/></g><g id="k49-4"><use href="#oR" x="240"/></g><g id="k49-5"><use href="#cR" x="292"/></g><g id="k49-6"><use href="#cR" x="344"/></g><g id="k49-7"><use href="#cR" x="396"/></g><g id="k49-8"><use href="#cR" x="448"/></g><g id="k49-9"><use href="#cR" x="500"/></g></g>
<g id="r50" transform="translate(0,2610)"><g id="k50-1"><use href="#oL" x="84"/></g><g id="k50-2"><use href="#cL" x="136"/></g><g id="k50-3"><use href="#cL" x="188"/></g><g id="k50-4"><use href="#cL" x="240"/></g><g id="k50-5"><use href="#oL" x="292"/></g><g id="k50-6"><use href="#cL" x="344"/></g><g id="k50-7"><use href="#cL" x="396"/></g><g id="k50-8"><use href="#cL" x="448"/></g><g id="k50-9"><use href="#cL" x="500"/></g></g>
<g id="r51" transform="translate(0,2662)"><g id="k51-1"><use href="#cR" x="84"/></g><g id="k51-2"><use href="#oR" x="136"/></g><g id="k51-3"><use href="#cR" x="188"/></g><g id="k51-4"><use href="#cR" x="240"/></g><g id="k51-5"><use href="#oR" x="292"/></g><g id="k51-6"><use href="#cR" x="344"/></g><g id="k51-7"><use href="#cR" x="396"/></g><g id="k51-8"><use href="#cR" x="448"/></g><g id="k51-9"><use href="#cR" x="500"/></g></g>
<g id="r52" transform="translate(0,2714)"><g id="k52-1"><use href="#cL" x="84"/></g><g id="k52-2"><use href="#cL" x="136"/></g><g id="k52-3"><use href="#oL" x="188"/></g><g id="k52-4"><use href="#oL" x="240"/></g><g id="k52-5"><use href="#cL" x="292"/></g><g id="k52-6"><use href="#cL" x="344"/></g><g id="k52-7"><use href="#cL" x="396"/></g><g id="k52-8"><use href="#cL" x="448"/></g><g id="k52-9"><use href="#cL" x="500"/></g></g>
<g id="r53" transform="translate(0,2766)"><g id="k53-1"><use href="#cR" x="84"/></g><g id="k53-2"><use href="#cR" x="136"/></g><g id="k53-3"><use href="#cR" x="188"/></g><g id="k53-4"><use href="#cR" x="240"/></g><g id="k53-5"><use href="#cR" x="292"/></g><g id="k53-6"><use href="#cR" x="344"/></g><g id="k53-7"><use href="#cR" x="396"/></g><g id="k53-8"><use href="#cR" x="448"/></g><g id="k53-9"><use href="#cR" x="500"/></g></g>
<g id="r54" transform="translate(0,2818)"><g id="k54-1"><use href="#cL" x="84"/></g><g id="k54-2"><use href="#cL" x="136"/></g><g id="k54-3"><use href="#cL" x="188"/></g><g id="k54-4"><use href="#cL" x="240"/></g><g id="k54-5"><use href="#cL" x="292"/></g><g id="k54-6"><use href="#cL" x="344"/></g><g id="k54-7"><use href="#cL" x="396"/></g><g id="k54-8"><use href="#cL" x="448"/></g><g id="k54-9"><use href="#cL" x="500"/></g></g>
<g id="r55" transform="translate(0,2870)"><g id="k55-1"><use href="#cR" x="84"/></g><g id="k55-2"><use href="#cR" x="136"/></g><g id="k55-3"><use href="#cR" x="188"/></g><g id="k55-4"><use href="#cR" x="240"/></g><g id="k55-5"><use href="#oR" x="292"/></g><g id="k55-6"><use href="#cR" x="344"/></g><g id="k55-7"><use href="#cR" x="396"/></g><g id="k55-8"><use href="#cR" x="448"/></g><g id="k55-9"><use href="#cR" x="500"/></g></g>
<g id="r56" transform="translate(0,2922)"><g id="k56-1"><use href="#cL" x="84"/></g><g id="k56-2"><use href="#cL" x="136"/></g><g id="k56-3"><use href="#cL" x="188"/></g><g id="k56-4"><use href="#cL" x="240"/></g><g id="k56-5"><use href="#oL" x="292"/></g><g id="k56-6"><use href="#oL" x="344"/></g><g id="k56-7"><use href="#cL" x="396"/></g><g id="k56-8"><use href="#cL" x="448"/></g><g id="k56-9"><use href="#cL" x="500"/></g></g>
<g id="r57" transform="translate(0,2974)"><g id="k57-1"><use href="#cR" x="84"/></g><g id="k57-2"><use href="#cR" x="136"/></g><g id="k57-3"><use href="#cR" x="188"/></g><g id="k57-4"><use href="#cR" x="240"/></g><g id="k57-5"><use href="#cR" x="292"/></g><g id="k57-6"><use href="#oR" x="344"/></g><g id="k57-7"><use href="#cR" x="396"/></g><g id="k57-8"><use href="#cR" x="448"/></g><g id="k57-9"><use href="#cR" x="500"/></g></g>
<g id="r58" transform="translate(0,3026)"><g id="k58-1"><use href="#cL" x="84"/></g><g id="k58-2"><use href="#cL" x="136"/></g><g id="k58-3"><use href="#cL" x="188"/></g><g id="k58-4"><use href="#cL" x="240"/></g><g id="k58-5"><use href="#cL" x="292"/></g><g id="k58-6"><use href="#oL" x="344"/></g><g id="k58-7"><use href="#oL" x="396"/></g><g id="k58-8"><use href="#cL" x="448"/></g><g id="k58-9"><use href="#cL" x="500"/></g></g>
<g id="r59" transform="translate(0,3078)"><g id="k59-1"><use href="#cR" x="84"/></g><g id="k59-2"><use href="#cR" x="136"/></g><g id="k59-3"><use href="#cR" x="188"/></g><g id="k59-4"><use href="#cR" x="240"/></g><g id="k59-5"><use href="#cR" x="292"/></g><g id="k59-6"><use href="#oR" x="344"/></g><g id="k59-7"><use href="#oR" x="396"/></g><g id="k59-8"><use href="#cR" x="448"/></g><g id="k59-9"><use href="#cR" x="500"/></g></g>
<g id="r60" transform="translate(0,3130)"><g id="k60-1"><use href="#cL" x="84"/></g><g id="k60-2"><use href="#cL" x="136"/></g><g id="k60-3"><use href="#cL" x="188"/></g><g id="k60-4"><use href="#cL" x="240"/></g><g id="k60-5"><use href="#cL" x="292"/></g><g id="k60-6"><use href="#oL" x="344"/></g><g id="k60-7"><use href="#oL" x="396"/></g><g id="k60-8"><use href="#cL" x="448"/></g><g id="k60-9"><use href="#cL" x="500"/></g></g>
<g id="r61" transform="translate(0,3182)"><g id="k61-1"><use href="#cR" x="84"/></g><g id="k61-2"><use href="#oR" x="136"/></g><g id="k61-3"><use href="#cR" x="188"/></g><g id="k61-4"><use href="#cR" x="240"/></g><g id="k61-5"><use href="#cR" x="292"/></g><g id="k61-6"><use href="#oR" x="344"/></g><g id="k61-7"><use href="#oR" x="396"/></g><g id="k61-8"><use href="#oR" x="448"/></g><g id="k61-9"><use href="#cR" x="500"/></g></g>
<g id="r62" transform="translate(0,3234)"><g id="k62-1"><use href="#cL" x="84"/></g><g id="k62-2"><use href="#cL" x="136"/></g><g id="k62-3"><use href="#oL" x="188"/></g><g id="k62-4"><use href="#cL" x="240"/></g><g id="k62-5"><use href="#oL" x="292"/></g><g id="k62-6"><use href="#oL" x="344"/></g><g id="k62-7"><use href="#oL" x="396"/></g><g id="k62-8"><use href="#oL" x="448"/></g><g id="k62-9"><use href="#cL" x="500"/></g></g>
<g id="r63" transform="translate(0,3286)"><g id="k63-1"><use href="#cR" x="84"/></g><g id="k63-2"><use href="#cR" x="136"/></g><g id="k63-3"><use href="#oR" x="188"/></g><g id="k63-4"><use href="#oR" x="240"/></g><g id="k63-5"><use href="#oR" x="292"/></g><g id="k63-6"><use href="#oR" x="344"/></g><g id="k63-7"><use href="#oR" x="396"/></g><g id="k63-8"><use href="#oR" x="448"/></g><g id="k63-9"><use href="#cR" x="500"/></g></g>
<g id="r64" transform="translate(0,3338)"><g id="k64-1"><use href="#cL" x="84"/></g><g id="k64-2"><use href="#cL" x="136"/></g><g id="k64-3"><use href="#cL" x="188"/></g><g id="k64-4"><use href="#oL" x="240"/></g><g id="k64-5"><use href="#oL" x="292"/></g><g id="k64-6"><use href="#oL" x="344"/></g><g id="k64-7"><use href="#oL" x="396"/></g><g id="k64-8"><use href="#oL" x="448"/></g><g id="k64-9"><use href="#cL" x="500"/></g></g>
<g id="r65" transform="translate(0,3390)"><g id="k65-1"><use href="#cR" x="84"/></g><g id="k65-2"><use href="#cR" x="136"/></g><g id="k65-3"><use href="#cR" x="188"/></g><g id="k65-4"><use href="#cR" x="240"/></g><g id="k65-5"><use href="#cR" x="292"/></g><g id="k65-6"><use href="#oR" x="344"/></g><g id="k65-7"><use href="#oR" x="396"/></g><g id="k65-8"><use href="#cR" x="448"/></g><g id="k65-9"><use href="#cR" x="500"/></g></g>
<g id="r66" transform="translate(0,3442)"><g id="k66-1"><use href="#cL" x="84"/></g><g id="k66-2"><use href="#cL" x="136"/></g><g id="k66-3"><use href="#cL" x="188"/></g><g id="k66-4"><use href="#cL" x="240"/></g><g id="k66-5"><use href="#cL" x="292"/></g><g id="k66-6"><use href="#cL" x="344"/></g><g id="k66-7"><use href="#cL" x="396"/></g><g id="k66-8"><use href="#cL" x="448"/></g><g id="k66-9"><use href="#cL" x="500"/></g></g>
<g id="r67" transform="translate(0,3494)"><g id="k67-1"><use href="#cR" x="84"/></g><g id="k67-2"><use href="#cR" x="136"/></g><g id="k67-3"><use href="#cR" x="188"/></g><g id="k67-4"><use href="#cR" x="240"/></g><g id="k67-5"><use href="#cR" x="292"/></g><g id="k67-6"><use href="#cR" x="344"/></g><g id="k67-7"><use href="#cR" x="396"/></g><g id="k67-8"><use href="#cR" x="448"/></g><g id="k67-9"><use href="#cR" x="500"/></g></g>
<g id="r68" transform="translate(0,3546)"><g id="k68-1"><use href="#cL" x="84"/></g><g id="k68-2"><use href="#cL" x="136"/></g><g id="k68-3"><use href="#cL" x="188"/></g><g id="k68-4"><use href="#cL" x="240"/></g><g id="k68-5"><use href="#cL" x="292"/></g><g id="k68-6"><use href="#cL" x="344"/></g><g id="k68-7"><use href="#cL" x="396"/></g><g id="k68-8"><use href="#cL" x="448"/></g><g id="k68-9"><use href="#cL" x="500"/></g></g>
<g id="r69" transform="translate(0,3598)"><g id="k69-1"><use href="#cR" x="84"/></g><g id="k69-2"><use href="#cR" x="136"/></g><g id="k69-3"><use href="#cR" x="188"/></g><g id="k69-4"><use href="#cR" x="240"/></g><g id="k69-5"><use href="#oR" x="292"/></g><g id="k69-6"><use href="#cR" x="344"/></g><g id="k69-7"><use href="#cR" x="396"/></g><g id="k69-8"><use href="#cR" x="448"/></g><g id="k69-9"><use href="#cR" x="500"/></g></g>
<g id="r70" transform="translate(0,3650)"><g id="k70-1"><use href="#cL" x="84"/></g><g id="k70-2"><use href="#cL" x="136"/></g><g id="k70-3"><use href="#cL" x="188"/></g><g id="k70-4"><use href="#cL" x="240"/></g><g id="k70-5"><use href="#oL" x="292"/></g><g id="k70-6"><use href="#cL" x="344"/></g><g id="k70-7"><use href="#cL" x="396"/></g><g id="k70-8"><use href="#cL" x="448"/></g><g id="k70-9"><use href="#cL" x="500"/></g></g>
<g id="r71" transform="translate(0,3702)"><g id="k71-1"><use href="#cR" x="84"/></g><g id="k71-2"><use href="#cR" x="136"/></g><g id="k71-3"><use href="#cR" x="188"/></g><g id="k71-4"><use href="#cR" x="240"/></g><g id="k71-5"><use href="#oR" x="292"/></g><g id="k71-6"><use href="#cR" x="344"/></g><g id="k71-7"><use href="#cR" x="396"/></g><g id="k71-8"><use href="#cR" x="448"/></g><g id="k71-9"><use href="#cR" x="500"/></g></g>
<g id="r72" transform="translate(0,3754)"><g id="k72-1"><use href="#cL" x="84"/></g><g id="k72-2"><use href="#cL" x="136"/></g><g id="k72-3"><use href="#cL" x="188"/></g><g id="k72-4"><use href="#oL" x="240"/></g><g id="k72-5"><use href="#cL" x="292"/></g><g id="k72-6"><use href="#oL" x="344"/></g><g id="k72-7"><use href="#cL" x="396"/></g><g id="k72-8"><use href="#cL" x="448"/></g><g id="k72-9"><use href="#cL" x="500"/></g></g>
<g id="r73" transform="translate(0,3806)"><g id="k73-1"><use href="#oR" x="84"/></g><g id="k73-2"><use href="#oR" x="136"/></g><g id="k73-3"><use href="#oR" x="188"/></g><g id="k73-4"><use href="#cR" x="240"/></g><g id="k73-5"><use href="#oR" x="292"/></g><g id="k73-6"><use href="#cR" x="344"/></g><g id="k73-7"><use href="#oR" x="396"/></g><g id="k73-8"><use href="#oR" x="448"/></g><g id="k73-9"><use href="#oR" x="500"/></g></g>
<g id="r74" transform="translate(0,3858)"><g id="k74-1"><use href="#cL" x="84"/></g><g id="k74-2"><use href="#cL" x="136"/></g><g id="k74-3"><use href="#cL" x="188"/></g><g id="k74-4"><use href="#oL" x="240"/></g><g id="k74-5"><use href="#cL" x="292"/></g><g id="k74-6"><use href="#oL" x="344"/></g><g id="k74-7"><use href="#cL" x="396"/></g><g id="k74-8"><use href="#cL" x="448"/></g><g id="k74-9"><use href="#cL" x="500"/></g></g>
<g id="r75" transform="translate(0,3910)"><g id="k75-1"><use href="#cR" x="84"/></g><g id="k75-2"><use href="#cR" x="136"/></g><g id="k75-3"><use href="#cR" x="188"/></g><g id="k75-4"><use href="#cR" x="240"/></g><g id="k75-5"><use href="#oR" x="292"/></g><g id="k75-6"><use href="#cR" x="344"/></g><g id="k75-7"><use href="#cR" x="396"/></g><g id="k75-8"><use href="#cR" x="448"/></g><g id="k75-9"><use href="#cR" x="500"/></g></g>
<g id="r76" transform="translate(0,3962)"><g id="k76-1"><use href="#cL" x="84"/></g><g id="k76-2"><use href="#cL" x="136"/></g><g id="k76-3"><use href="#cL" x="188"/></g><g id="k76-4"><use href="#cL" x="240"/></g><g id="k76-5"><use href="#oL" x="292"/></g><g id="k76-6"><use href="#cL" x="344"/></g><g id="k76-7"><use href="#cL" x="396"/></g><g id="k76-8"><use href="#cL" x="448"/></g><g id="k76-9"><use href="#cL" x="500"/></g></g>
<g id="r77" transform="translate(0,4014)"><g id="k77-1"><use href="#cR" x="84"/></g><g id="k77-2"><use href="#cR" x="136"/></g><g id="k77-3"><use href="#cR" x="188"/></g><g id="k77-4"><use href="#cR" x="240"/></g><g id="k77-5"><use href="#oR" x="292"/></g><g id="k77-6"><use href="#cR" x="344"/></g><g id="k77-7"><use href="#cR" x="396"/></g><g id="k77-8"><use href="#cR" x="448"/></g><g id="k77-9"><use href="#cR" x="500"/></g></g>
<g id="r78" transform="translate(0,4066)"><g id="k78-1"><use href="#cL" x="84"/></g><g id="k78-2"><use href="#cL" x="136"/></g><g id="k78-3"><use href="#cL" x="188"/></g><g id="k78-4"><use href="#cL" x="240"/></g><g id="k78-5"><use href="#cL" x="292"/></g><g id="k78-6"><use href="#cL" x="344"/></g><g id="k78-7"><use href="#cL" x="396"/></g><g id="k78-8"><use href="#cL" x="448"/></g><g id="k78-9"><use href="#cL" x="500"/></g></g>
<g id="r79" transform="translate(0,4118)"><g id="k79-1"><use href="#cR" x="84"/></g><g id="k79-2"><use href="#cR" x="136"/></g><g id="k79-3"><use href="#cR" x="188"/></g><g id="k79-4"><use href="#cR" x="240"/></g><g id="k79-5"><use href="#cR" x="292"/></g><g id="k79-6"><use href="#cR" x="344"/></g><g id="k79-7"><use href="#cR" x="396"/></g><g id="k79-8"><use href="#cR" x="448"/></g><g id="k79-9"><use href="#cR" x="500"/></g></g>
<g id="r80" transform="translate(0,4170)"><g id="k80-1"><use href="#cL" x="84"/></g><g id="k80-2"><use href="#cL" x="136"/></g><g id="k80-3"><use href="#cL" x="188"/></g><g id="k80-4"><use href="#cL" x="240"/></g><g id="k80-5"><use href="#cL" x="292"/></g><g id="k80-6"><use href="#cL" x="344"/></g><g id="k80-7"><use href="#cL" x="396"/></g><g id="k80-8"><use href="#cL" x="448"/></g><g id="k80-9"><use href="#cL" x="500"/></g></g>
</g>
<g id="labels-left" class="lb ll">
<text x="21" y="66">1</text><text x="21" y="118">2</text><text x="21" y="170">3</text><text x="21" y="222">4</text><text x="21" y="274">5</text><text x="21" y="326">6</text><text x="21" y="378">7</text><text x="21" y="430">8</text><text x="21" y="482">9</text><text x="21" y="534">10</text><text x="21" y="586">11</text><text x="21" y="638">12</text><text x="21" y="690">13</text><text x="21" y="742">14</text><text x="21" y="794">15</text><text x="21" y="846">16</text><text x="21" y="898">17</text><text x="21" y="950">18</text><text x="21" y="1002">19</text><text x="21" y="1054">20</text><text x="21" y="1106">21</text><text x="21" y="1158">22</text><text x="21" y="1210">23</text><text x="21" y="1262">24</text><text x="21" y="1314">25</text><text x="21" y="1366">26</text><text x="21" y="1418">27</text><text x="21" y="1470">28</text><text x="21" y="1522">29</text><text x="21" y="1574">30</text><text x="21" y="1626">31</text><text x="21" y="1678">32</text><text x="21" y="1730">33</text><text x="21" y="1782">34</text><text x="21" y="1834">35</text><text x="21" y="1886">36</text><text x="21" y="1938">37</text><text x="21" y="1990">38</text><text x="21" y="2042">39</text><text x="21" y="2094">40</text><text x="21" y="2146">41</text><text x="21" y="2198">42</text><text x="21" y="2250">43</text><text x="21" y="2302">44</text><text x="21" y="2354">45</text><text x="21" y="2406">46</text><text x="21" y="2458">47</text><text x="21" y="2510">48</text><text x="21" y="2562">49</text><text x="21" y="2614">50</text><text x="21" y="2666">51</text><text x="21" y="2718">52</text><text x="21" y="2770">53</text><text x="21" y="2822">54</text><text x="21" y="2874">55</text><text x="21" y="2926">56</text><text x="21" y="2978">57</text><text x="21" y="3030">58</text><text x="21" y="3082">59</text><text x="21" y="3134">60</text><text x="21" y="3186">61</text><text x="21" y="3238">62</text><text x="21" y="3290">63</text><text x="21" y="3342">64</text><text x="21" y="3394">65</text><text x="21" y="3446">66</text><text x="21" y="3498">67</text><text x="21" y="3550">68</text><text x="21" y="3602">69</text><text x="21" y="3654">70</text><text x="21" y="3706">71</text><text x="21" y="3758">72</text><text x="21" y="3810">73</text><text x="21" y="3862">74</text><text x="21" y="3914">75</text><text x="21" y="3966">76</text><text x="21" y="4018">77</text><text x="21" y="4070">78</text><text x="21" y="4122">79</text><text x="21" y="4174">80</text>
</g>
<g id="labels-right" class="lb">
<text x="563" y="66">1</text><text x="563" y="118">2</text><text x="563" y="170">3</text><text x="563" y="222">4</text><text x="563" y="274">5</text><text x="563" y="326">6</text><text x="563" y="378">7</text><text x="563" y="430">8</text><text x="563" y="482">9</text><text x="563" y="534">10</text><text x="563" y="586">11</text><text x="563" y="638">12</text><text x="563" y="690">13</text><text x="563" y="742">14</text><text x="563" y="794">15</text><text x="563" y="846">16</text><text x="563" y="898">17</text><text x="563" y="950">18</text><text x="563" y="1002">19</text><text x="563" y="1054">20</text><text x="563" y="1106">21</text><text x="563" y="1158">22</text><text x="563" y="1210">23</text><text x="563" y="1262">24</text><text x="563" y="1314">25</text><text x="563" y="1366">26</text><text x="563" y="1418">27</text><text x="563" y="1470">28</text><text x="563" y="1522">29</text><text x="563" y="1574">30</text><text x="563" y="1626">31</text><text x="563" y="1678">32</text><text x="563" y="1730">33</text><text x="563" y="1782">34</text><text x="563" y="1834">35</text><text x="563" y="1886">36</text><text x="563" y="1938">37</text><text x="563" y="1990">38</text><text x="563" y="2042">39</text><text x="563" y="2094">40</text><text x="563" y="2146">41</text><text x="563" y="2198">42</text><text x="563" y="2250">43</text><text x="563" y="2302">44</text><text x="563" y="2354">45</text><text x="563" y="2406">46</text><text x="563" y="2458">47</text><text x="563" y="2510">48</text><text x="563" y="2562">49</text><text x="563" y="2614">50</text><text x="563" y="2666">51</text><text x="563" y="2718">52</text><text x="563" y="2770">53</text><text x="563" y="2822">54</text><text x="563" y="2874">55</text><text x="563" y="2926">56</text><text x="563" y="2978">57</text><text x="563" y="3030">58</text><text x="563" y="3082">59</text><text x="563" y="3134">60</text><text x="563" y="3186">61</text><text x="563" y="3238">62</text><text x="563" y="3290">63</text><text x="563" y="3342">64</text><text x="563" y="3394">65</text><text x="563" y="3446">66</text><text x="563" y="3498">67</text><text x="563" y="3550">68</text><text x="563" y="3602">69</text><text x="563" y="3654">70</text><text x="563" y="3706">71</text><text x="563" y="3758">72</text><text x="563" y="3810">73</text><text x="563" y="3862">74</text><text x="563" y="3914">75</text><text x="563" y="3966">76</text><text x="563" y="4018">77</text><text x="563" y="4070">78</text><text x="563" y="4122">79</text><text x="563" y="4174">80</text>
</g>
<text id="watermark" x="216" y="2121" font-family="Liberation Sans, Arial, sans-serif" font-weight="bold" font-size="15.5" textLength="152" lengthAdjust="spacingAndGlyphs" fill="#404040" stroke="#fff" stroke-opacity="0.7" stroke-width="2" paint-order="stroke">BRACELETBOOK.COM</text>
</svg>
